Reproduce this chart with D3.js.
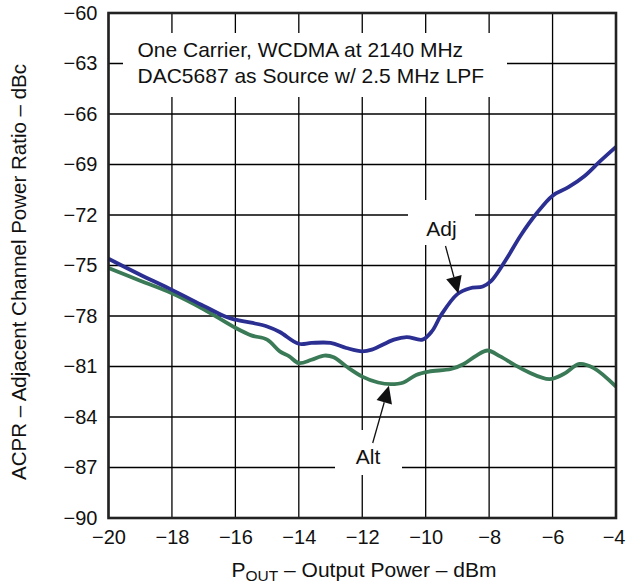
<!DOCTYPE html>
<html>
<head>
<meta charset="utf-8">
<script src="https://cdn.jsdelivr.net/npm/d3@7/dist/d3.min.js"></script>
<style>
  html, body { margin: 0; padding: 0; background: #fff; }
  svg { display: block; font-family: "Liberation Sans", Arial, Helvetica, sans-serif; }
</style>
</head>
<body>
<svg id="chart" width="626" height="584"></svg>
<script>
// ---- data ----
const xTicks = [-20, -18, -16, -14, -12, -10, -8, -6, -4];
const yTicks = [-90, -87, -84, -81, -78, -75, -72, -69, -66, -63, -60];

const adjX = [-20, -19, -18, -17, -16.3, -16, -15.5, -15, -14.6, -14, -13.6, -13, -12.5, -12, -11.7, -11, -10.6, -10.1, -9.8, -9.5, -9.0, -8.6, -8.2, -7.95, -7.5, -7, -6.5, -6, -5.5, -5, -4.5, -4];
const adjY = [-74.6, -75.55, -76.45, -77.4, -78.05, -78.22, -78.4, -78.62, -78.95, -79.65, -79.6, -79.6, -79.9, -80.1, -80.0, -79.4, -79.25, -79.4, -78.9, -77.9, -76.7, -76.35, -76.25, -75.95, -74.75, -73.2, -71.9, -70.85, -70.35, -69.7, -68.8, -67.95];

const altX = [-20, -19, -18, -17, -16, -15.5, -15, -14.6, -14.3, -14, -13.6, -13.2, -12.9, -12.5, -12, -11.5, -11.1, -10.7, -10.3, -9.9, -9.2, -8.8, -8.4, -8.05, -7.65, -7.2, -6.8, -6.1, -5.65, -5.15, -4.7, -4];
const altY = [-75.15, -75.9, -76.65, -77.6, -78.7, -79.15, -79.4, -80.1, -80.4, -80.8, -80.6, -80.35, -80.45, -81.0, -81.6, -81.95, -82.05, -81.95, -81.5, -81.3, -81.15, -80.85, -80.35, -80.05, -80.4, -80.9, -81.3, -81.75, -81.45, -80.85, -81.1, -82.2];

const noteLines = ["One Carrier, WCDMA at 2140 MHz", "DAC5687 as Source w/ 2.5 MHz LPF"];

// ---- layout ----
const svg = d3.select("#chart");
const M = { left: 108.5, top: 13, right: 10, bottom: 66 };
const W = 626 - M.left - M.right;
const H = 584 - M.top - M.bottom;
const fmt = v => (v < 0 ? "\u2212" + Math.abs(v) : String(v));

const x = d3.scaleLinear().domain([-20, -4]).range([0, W]);
const y = d3.scaleLinear().domain([-90, -60]).range([H, 0]);

const g = svg.append("g").attr("transform", `translate(${M.left},${M.top})`);

// grid
g.append("g").selectAll("line").data(xTicks).join("line")
  .attr("x1", d => x(d)).attr("x2", d => x(d)).attr("y1", 0).attr("y2", H)
  .attr("stroke", "#000").attr("stroke-width", 1.3);
g.append("g").selectAll("line").data(yTicks).join("line")
  .attr("x1", 0).attr("x2", W).attr("y1", d => y(d)).attr("y2", d => y(d))
  .attr("stroke", "#000").attr("stroke-width", 1.3);

// white boxes for annotations (break the grid)
function whiteBox(x0, y0, x1, y1) {
  g.append("rect").attr("x", x0 - M.left).attr("y", y0 - M.top)
    .attr("width", x1 - x0).attr("height", y1 - y0).attr("fill", "#fff");
}
whiteBox(123, 33, 507, 97);
whiteBox(408, 200, 475, 245);
whiteBox(335, 430, 402, 475);

// curves
const line = d3.line().x(d => x(d[0])).y(d => y(d[1])).curve(d3.curveCatmullRom.alpha(0.5));
g.append("path").datum(altX.map((v, i) => [v, altY[i]]))
  .attr("d", line).attr("fill", "none").attr("stroke", "#3a7a56").attr("stroke-width", 3.8)
  .attr("stroke-linejoin", "round");
g.append("path").datum(adjX.map((v, i) => [v, adjY[i]]))
  .attr("d", line).attr("fill", "none").attr("stroke", "#2b2f92").attr("stroke-width", 3.8)
  .attr("stroke-linejoin", "round");

// frame
g.append("rect").attr("x", 0).attr("y", 0).attr("width", W).attr("height", H)
  .attr("fill", "none").attr("stroke", "#222").attr("stroke-width", 2.6);

// axes
const xAxis = g.append("g").attr("transform", `translate(0,${H})`)
  .call(d3.axisBottom(x).tickValues(xTicks).tickFormat(fmt).tickSize(0).tickPadding(12));
const yAxis = g.append("g")
  .call(d3.axisLeft(y).tickValues(yTicks).tickFormat(fmt).tickSize(0).tickPadding(11));
[xAxis, yAxis].forEach(a => {
  a.select(".domain").remove();
  a.selectAll("text").attr("font-size", 20).attr("fill", "#111")
    .attr("font-family", "'Liberation Sans', Arial, sans-serif");
});
xAxis.selectAll("text").attr("dy", "0.71em");
// keep the last label inside the window
xAxis.selectAll(".tick").filter(d => d === -4).select("text").attr("text-anchor", "end").attr("x", 626 - M.left - W - 1);

// note text
const note = g.append("text").attr("font-size", 21).attr("fill", "#111");
noteLines.forEach((t, i) => {
  note.append("tspan").attr("x", 137.5 - M.left).attr("y", 57 - M.top + i * 26).text(t);
});

// labels Adj / Alt
g.append("text").attr("x", 441.5 - M.left).attr("y", 236 - M.top).attr("text-anchor", "middle")
  .attr("font-size", 21).attr("fill", "#111").text("Adj");
g.append("text").attr("x", 368 - M.left).attr("y", 463.5 - M.top).attr("text-anchor", "middle")
  .attr("font-size", 21).attr("fill", "#111").text("Alt");

// arrows
function arrow(x0, y0, tx, ty) {
  const X1 = x(tx), Y1 = y(ty);
  const X0 = x0 - M.left, Y0 = y0 - M.top;
  const ang = Math.atan2(Y1 - Y0, X1 - X0);
  const L = 17, Wd = 8;
  const bx = X1 - L * Math.cos(ang), by = Y1 - L * Math.sin(ang);
  g.append("line").attr("x1", X0).attr("y1", Y0).attr("x2", bx).attr("y2", by)
    .attr("stroke", "#111").attr("stroke-width", 1.3);
  const px = -Math.sin(ang) * Wd, py = Math.cos(ang) * Wd;
  g.append("path").attr("d", `M${X1},${Y1}L${bx + px},${by + py}L${bx - px},${by - py}Z`)
    .attr("fill", "#111");
}
arrow(445.5, 246, -8.97, -76.66);
arrow(372.7, 443, -11.16, -82.15);

// axis titles
const xt = svg.append("text").attr("x", 364).attr("y", 577).attr("text-anchor", "middle")
  .attr("font-size", 21).attr("fill", "#111");
xt.append("tspan").text("P");
xt.append("tspan").attr("font-size", 15.5).attr("dy", 3.5).text("OUT");
xt.append("tspan").attr("dy", -3.5).text(" \u2013 Output Power \u2013 dBm");

svg.append("text").attr("transform", "translate(26,272) rotate(-90)")
  .attr("text-anchor", "middle").attr("font-size", 20.5).attr("fill", "#111")
  .text("ACPR \u2013 Adjacent Channel Power Ratio \u2013 dBc");
</script>
</body>
</html>
